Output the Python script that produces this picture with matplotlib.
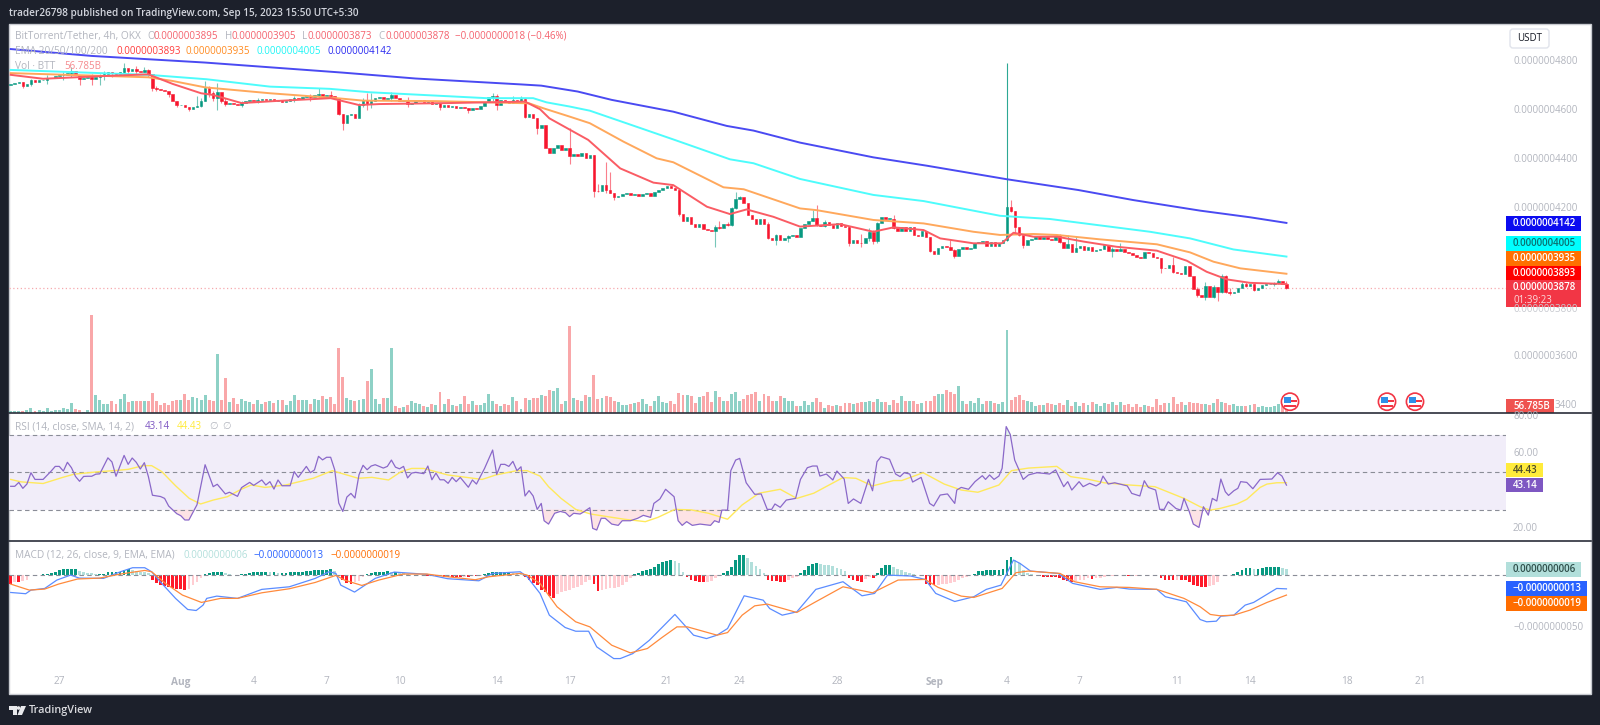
#!/usr/bin/env python3

import matplotlib
matplotlib.use("Agg")
import matplotlib.pyplot as plt
from matplotlib.patches import Rectangle, Circle, FancyBboxPatch, Polygon

plt.rcParams['font.family'] = ['Open Sans', 'DejaVu Sans']

# prices are in units of 0.0000000001 USDT
first_open = 4705
closes = [
    4708, 4712, 4714, 4700, 4708, 4722, 4716, 4722, 4726, 4732,
    4734, 4742, 4744, 4746, 4752, 4760, 4745, 4730, 4734, 4738,
    4728, 4738, 4744, 4750, 4756, 4752, 4744, 4758, 4772, 4760,
    4768, 4762, 4758, 4766, 4748, 4690, 4688, 4685, 4680, 4665,
    4640, 4622, 4624, 4612, 4606, 4612, 4618, 4640, 4690, 4672,
    4650, 4675, 4640, 4628, 4630, 4626, 4622, 4630, 4638, 4642,
    4638, 4644, 4648, 4642, 4646, 4640, 4644, 4635, 4638, 4646,
    4652, 4648, 4654, 4660, 4655, 4664, 4666, 4660, 4664, 4660,
    4650, 4585, 4548, 4582, 4584, 4570, 4622, 4643, 4626, 4640,
    4650, 4654, 4648, 4652, 4662, 4650, 4640, 4644, 4625, 4632,
    4638, 4642, 4636, 4640, 4626, 4632, 4616, 4622, 4612, 4618,
    4610, 4616, 4608, 4600, 4610, 4604, 4618, 4634, 4656, 4660,
    4622, 4642, 4634, 4630, 4644, 4638, 4646, 4575, 4584, 4570,
    4530, 4541, 4446, 4425, 4448, 4459, 4439, 4446, 4415, 4423,
    4414, 4426, 4405, 4418, 4273, 4271, 4296, 4276, 4265, 4246,
    4252, 4258, 4262, 4255, 4260, 4252, 4260, 4264, 4252, 4269,
    4276, 4283, 4292, 4283, 4276, 4178, 4151, 4165, 4138, 4126,
    4137, 4116, 4112, 4110, 4126, 4120, 4137, 4133, 4201, 4238,
    4246, 4224, 4174, 4157, 4137, 4156, 4137, 4079, 4072, 4092,
    4072, 4079, 4088, 4092, 4086, 4120, 4137, 4151, 4160, 4133,
    4129, 4147, 4133, 4120, 4143, 4129, 4125, 4059, 4072, 4061,
    4060, 4079, 4106, 4070, 4140, 4165, 4157, 4160, 4120, 4110,
    4126, 4110, 4124, 4093, 4090, 4110, 4083, 4029, 4015, 4038,
    4048, 4042, 4032, 4007, 4034, 4045, 4034, 4038, 4059, 4065,
    4070, 4048, 4065, 4048, 4061, 4072, 4208, 4192, 4124, 4093,
    4052, 4072, 4076, 4090, 4075, 4086, 4075, 4072, 4090, 4066,
    4041, 4056, 4022, 4041, 4048, 4032, 4042, 4029, 4030, 4034,
    4052, 4029, 4034, 4029, 4034, 4022, 4020, 4011, 4004, 3998,
    4025, 4018, 4004, 3998, 3960, 3958, 3970, 3943, 3940, 3935,
    3966, 3926, 3871, 3848, 3842, 3885, 3839, 3882, 3862, 3926,
    3862, 3855, 3862, 3875, 3892, 3886, 3892, 3869, 3879, 3889,
    3893, 3895, 3898, 3907, 3895, 3878,
]

# notable wicks only: candle index, high, low
wick_idx = [3, 5, 9, 13, 15, 17, 20, 22, 23, 25, 28, 29, 31, 33, 34, 35, 36, 39, 41, 44,
            46, 47, 48, 49, 50, 51, 52, 53, 57, 61, 70, 74, 76, 79, 81, 82, 86, 87, 88, 89,
            94, 98, 106, 113, 119, 120, 124, 126, 127, 130, 138, 144, 145, 147, 148, 149, 165, 174, 175, 177,
            178, 179, 180, 187, 189, 192, 198, 199, 201, 207, 210, 212, 213, 214, 218, 227, 232, 233, 246, 247,
            248, 249, 250, 259, 261, 263, 272, 274, 284, 287, 293, 295, 297, 298, 299, 300, 301, 304, 305, 307,
            312, 313, 315]
wick_high = [4714, 4728, 4745, 4755, 4775, 4740, 4750, 4750, 4760, 4758, 4795, 4770, 4780, 4775, 4770, 4750, 4700, 4670, 4640, 4615,
             4660, 4650, 4720, 4700, 4680, 4710, 4670, 4650, 4640, 4650, 4660, 4668, 4690, 4680, 4650, 4585, 4630, 4650, 4670, 4670,
             4675, 4655, 4630, 4610, 4670, 4665, 4660, 4660, 4650, 4570, 4527, 4418, 4302, 4391, 4350, 4262, 4283, 4132, 4150, 4145,
             4205, 4269, 4250, 4145, 4098, 4092, 4195, 4215, 4155, 4128, 4098, 4120, 4115, 4145, 4174, 4085, 4072, 4035, 4793, 4235,
             4190, 4120, 4065, 4095, 4092, 4090, 4045, 4060, 4000, 4005, 3880, 3900, 3890, 3880, 3936, 3930, 3875, 3900, 3900, 3895,
             3900, 3915, 3905]
wick_low = [4692, 4700, 4706, 4725, 4735, 4702, 4705, 4705, 4725, 4735, 4745, 4745, 4750, 4755, 4735, 4680, 4678, 4655, 4612, 4598,
            4612, 4612, 4640, 4655, 4640, 4600, 4630, 4620, 4612, 4630, 4635, 4640, 4650, 4650, 4580, 4520, 4578, 4615, 4600, 4610,
            4640, 4615, 4600, 4590, 4640, 4600, 4630, 4640, 4570, 4505, 4382, 4249, 4268, 4265, 4262, 4235, 4170, 4045, 4118, 4130,
            4130, 4198, 4238, 4075, 4052, 4065, 4150, 4128, 4125, 4050, 4045, 4070, 4055, 4059, 4118, 4025, 4032, 4000, 4070, 4188,
            4095, 4087, 4040, 4060, 4052, 4035, 4004, 4028, 3939, 3940, 3842, 3830, 3835, 3825, 3858, 3855, 3850, 3880, 3880, 3865,
            3885, 3895, 3873]

volumes = [
    12, 12, 12, 10, 18, 32, 12, 18, 12, 32,
    10, 18, 18, 32, 22, 60, 22, 18, 6, 18,
    590, 106, 80, 54, 54, 70, 54, 86, 116, 64,
    70, 74, 74, 70, 70, 122, 70, 50, 60, 50,
    74, 80, 80, 112, 80, 96, 90, 80, 106, 80,
    74, 352, 80, 212, 64, 90, 54, 86, 70, 64,
    54, 80, 54, 64, 70, 60, 80, 80, 50, 70,
    106, 80, 80, 80, 54, 86, 80, 100, 86, 96,
    54, 390, 216, 90, 80, 74, 80, 86, 190, 264,
    86, 54, 90, 90, 390, 44, 32, 38, 48, 70,
    60, 54, 44, 38, 54, 48, 128, 54, 86, 48,
    44, 54, 102, 54, 70, 48, 48, 60, 112, 70,
    54, 44, 54, 50, 96, 74, 26, 90, 80, 90,
    90, 106, 100, 138, 132, 148, 54, 70, 524, 90,
    80, 70, 106, 96, 230, 86, 90, 100, 96, 74,
    64, 48, 48, 54, 60, 64, 86, 54, 44, 74,
    100, 64, 60, 70, 54, 122, 106, 106, 100, 60,
    96, 100, 128, 64, 132, 96, 70, 74, 112, 128,
    74, 86, 106, 116, 128, 70, 112, 100, 70, 70,
    100, 90, 74, 74, 44, 44, 70, 48, 64, 90,
    64, 32, 50, 44, 50, 44, 60, 60, 54, 60,
    64, 68, 74, 64, 86, 64, 64, 50, 80, 60,
    100, 74, 70, 74, 54, 60, 74, 70, 100, 112,
    112, 138, 128, 116, 164, 74, 54, 70, 60, 90,
    54, 74, 74, 60, 54, 64, 500, 80, 96, 106,
    80, 70, 64, 44, 48, 50, 60, 54, 50, 60,
    50, 80, 44, 64, 44, 60, 50, 64, 54, 44,
    60, 54, 64, 50, 64, 50, 54, 38, 54, 38,
    50, 44, 38, 86, 50, 60, 60, 96, 54, 64,
    50, 66, 60, 60, 54, 54, 50, 60, 86, 64,
    60, 50, 54, 44, 44, 44, 50, 54, 38, 44,
    38, 38, 44, 54, 60, 57,
]

ema20_idx = [0, 8, 23, 34, 40, 47, 50, 57, 65, 79, 86, 91, 108, 127, 130.7, 133, 142.6, 150.5, 158.7, 163.6,
             171.9, 177.6, 181.7, 188.3, 194.9, 204.8, 213, 218, 225.4, 229.5, 237.7, 244.7, 247.6, 252.5, 258.3, 264.9, 273, 283, 290.4, 295.3,
             300.3, 306, 315]
ema20 = [4745, 4729, 4740, 4747, 4708, 4670, 4663, 4630, 4638, 4650, 4622, 4626, 4630, 4636, 4605, 4568, 4480, 4364, 4306, 4296,
         4208, 4178, 4197, 4167, 4127, 4137, 4106, 4124, 4113, 4079, 4059, 4059, 4102, 4086, 4086, 4066, 4045, 4029, 3988, 3943,
         3912, 3898, 3893]
ema50_idx = [0, 34, 40, 48, 64, 80.5, 87, 105, 128, 131.5, 138, 143, 151.3, 159.5, 163.6, 176, 181, 194.9, 199, 213,
             225.4, 237.7, 244.3, 252.5, 258.3, 269, 283, 291.2, 297, 303.6, 315]
ema50 = [4752, 4735, 4720, 4694, 4670, 4650, 4640, 4638, 4629, 4609, 4575, 4548, 4473, 4405, 4389, 4287, 4279, 4201, 4194, 4154,
         4140, 4106, 4093, 4097, 4093, 4075, 4055, 4022, 3984, 3957, 3935]
ema100_idx = [0, 34, 48.4, 64, 78.8, 88.7, 117.5, 129, 132.3, 138, 143, 152, 163.6, 177.6, 183.4, 194.9, 213, 225.4, 244.3, 256.6,
              281.3, 291.2, 301.9, 315]
ema100 = [4765, 4745, 4727, 4697, 4688, 4674, 4650, 4650, 4633, 4616, 4599, 4548, 4482, 4401, 4385, 4321, 4256, 4231, 4171, 4158,
          4106, 4079, 4034, 4005]
ema200_idx = [0, 20, 48, 82, 100, 126, 131, 140, 148.4, 163.6, 176.8, 183.4, 194.9, 213, 226.2, 245.9, 263.6, 277.2, 293.7, 306, 315]
ema200 = [4850, 4822, 4795, 4754, 4730, 4706, 4701, 4677, 4643, 4595, 4537, 4518, 4469, 4409, 4375, 4320, 4276, 4235, 4192, 4165, 4142]

rsi_idx = [
    0, 1, 2, 3, 4, 5, 6, 7, 8, 10,
    11, 12, 13, 14, 15, 16, 17, 18, 19, 20,
    21, 22, 24, 25, 26, 28, 29, 30, 31, 32,
    33, 34, 35, 37, 38, 39, 41, 42, 43, 44,
    46, 48, 50, 51, 53, 54, 56, 57, 59, 60,
    62, 63, 64, 65, 66, 67, 69, 70, 71, 73,
    74, 75, 76, 77, 78, 79, 80, 81, 82, 83,
    84, 85, 86, 87, 88, 89, 90, 92, 93, 94,
    95, 96, 97, 98, 99, 100, 102, 103, 104, 105,
    106, 107, 108, 109, 110, 111, 113, 114, 115, 117,
    119, 120, 121, 122, 123, 124, 125, 126, 127, 128,
    129, 130, 131, 131.7, 132.8, 134.3, 135.7, 137, 138, 139,
    140.6, 141.6, 143, 143.7, 144.7, 145.8, 146.8, 148.4, 150, 151,
    153, 154.8, 156.2, 158, 158.8, 160.3, 161.7, 163.8, 164.8, 165.8,
    166.9, 168.3, 170.2, 172.8, 173.8, 174.9, 175.6, 177, 177.8, 179,
    180, 181.6, 183.7, 185.3, 186.8, 187.9, 188.7, 190, 191.5, 193.8,
    195, 196.7, 198, 199.1, 199.8, 201.4, 203, 204, 205.8, 206.8,
    208.1, 209.9, 211.8, 212.8, 213.9, 214.9, 217, 218.5, 219.6, 220.6,
    222, 222.7, 224.8, 226.1, 226.9, 227.9, 229.5, 231.3, 233.1, 233.6,
    234.7, 236.5, 238.1, 239.9, 240.7, 241.7, 242.8, 244, 244.8, 245.8,
    246.8, 247.9, 250, 251.3, 253.4, 254.9, 256.5, 258, 260, 261,
    262, 263.8, 264.8, 266.4, 268, 269, 269.7, 271, 272.6, 275.7,
    276.8, 278.8, 279.9, 280.9, 282.7, 283.7, 284.8, 285.8, 287.7, 288.9,
    289.7, 291, 292, 293.4, 294.5, 295.7, 296.7, 297.8, 298.8, 299.9,
    300.7, 302, 303, 303.7, 305.2, 306.7, 308.5, 311.4, 312.8, 313.9,
    315,
]
rsi = [
    42.5, 42.5, 44.6, 41.4, 43.7, 49.8, 46.2, 46.2, 46.2, 50.7,
    53.2, 53.2, 50.7, 55.4, 52.5, 47.8, 45.2, 47.8, 47.9, 47.9,
    49.0, 49.2, 57.8, 55.6, 47.9, 59.1, 54.3, 57.7, 55.4, 51.8,
    55.2, 47.7, 37.7, 37, 36, 31.9, 27.8, 26.7, 24.4, 24.4,
    32.6, 54.1, 42.3, 43.6, 38.4, 39.3, 37.1, 41.8, 44.6, 43,
    45.9, 43.2, 45, 41, 45.9, 42.8, 42.8, 50.4, 47.3, 53.2,
    49.8, 51.3, 58.6, 56.7, 58.1, 58.1, 51.4, 33.5, 29, 36.7,
    38.7, 36.2, 48.7, 53.8, 51.4, 53.4, 54.1, 52.3, 53.2, 56.6,
    52.8, 51.9, 53.2, 47, 49.6, 50, 49.3, 53.4, 46, 49.6,
    46, 46, 44.1, 47.3, 45, 47.3, 42, 45.9, 43.7, 52.1,
    62, 48.9, 54.3, 54.3, 53.2, 55.9, 50.9, 53, 37.3, 40.2,
    37.3, 30.1, 33.3, 24, 22.2, 28, 29, 28.3, 26.2, 28,
    27.6, 28.9, 31, 19.9, 19, 25.3, 25.3, 22.2, 21.5, 24,
    24, 25.3, 26.9, 25.8, 33.3, 35.7, 40.9, 36.9, 24, 21.5,
    23.5, 21.5, 22.2, 21.5, 24, 23.1, 29.7, 29.7, 50.9, 56.6,
    57.5, 44.4, 38.2, 38.4, 30.1, 30.1, 33, 31.2, 35.1, 36,
    46.2, 52.5, 53.4, 53.4, 48, 49.1, 45.9, 50.7, 46.4, 33.3,
    35.7, 33.3, 46.2, 40.1, 55.7, 58.4, 57, 49.1, 47.7, 49.8,
    49.1, 44.8, 47.3, 38.7, 33.3, 31.9, 37.8, 38.4, 33.3, 40.5,
    41.9, 40.9, 45, 48.2, 46.2, 48.6, 46.2, 48, 52.2, 74.6,
    70.4, 56.6, 46.2, 48.6, 49.8, 49.5, 49.1, 51.3, 42.3, 45,
    40.5, 45, 42.3, 44.1, 42.7, 44.1, 48, 43.7, 44.4, 42.7,
    38.7, 37.3, 45.5, 41.9, 40.5, 30.1, 30.1, 34.2, 30.6, 29.7,
    36, 28.9, 22.2, 20.4, 31.5, 27, 36, 34.6, 46.4, 39.6,
    37.6, 40.1, 41.4, 45, 44.6, 41.2, 46.2, 46.4, 49.8, 48,
    43.14,
]

sma_idx = [0, 2.5, 8, 12.7, 15.6, 22, 25.4, 29, 32.7, 34.8, 37.3, 40.7, 44.1, 46.9, 50, 53.5, 56.9, 59.4, 62.8, 67.9, 74.7, 79.4, 85.8, 89.2, 93.3, 96.4, 99, 102, 107.9, 116.4,
           119.8, 124.9, 127.5, 130.7, 132.8, 135.9, 139.5, 143.2, 147.3, 151.5, 156.7, 159.8, 164, 168.1, 172.3, 177, 180.6, 184.8, 190, 194.1, 198.3, 205.5, 208.7, 212.8, 218, 220, 225.3, 230.5, 234.7, 238.8,
           244, 247.1, 251.3, 258.3, 261.7, 265.8, 270, 276.2, 282.5, 289.7, 293.7, 296.2, 298.6, 302.8, 305.2, 308.5, 310.2, 312.6, 315]
sma = [46.2, 44.9, 44, 47.2, 49, 50.4, 50.9, 51.6, 53.6, 53.6, 50.4, 42.8, 36, 33, 35.1, 36.9, 40.9, 43.2, 41.9, 43.2, 46.8, 50.9, 46.8, 47.3, 45.9, 50.4, 52.1, 52.1, 48.6, 46.2,
       48.6, 50.9, 50.9, 48, 42.3, 36, 30.1, 27.6, 26.2, 24.8, 23.5, 25.8, 30.1, 29.8, 28, 24.8, 32.5, 38.8, 40.9, 36, 38.8, 47.2, 46.8, 42.7, 45.6, 45.6, 49.8, 43.7, 40.5, 39.3,
       43.2, 50.9, 52.3, 53.2, 47.7, 46.4, 44.4, 43.2, 42.3, 36, 31.5, 29.7, 30.6, 33, 35.5, 41.9, 43.7, 44.4, 44.43]

macd_hist = [
    -8, -6, -6, -5.5, -4.5, .5, .5, .7, 1, 1.5,
    2, 3, 5, 6, 6, 6, 6, 4, 3, 2.5,
    2, 1.5, 1.5, 1.5, 3, 3, 3, 3.5, 5, 6,
    5, 4, 3.5, 3, 2, -4, -7, -9, -10, -11,
    -12, -13, -13.5, -14, -13.5, -9, -6, -3, 1, 2.5,
    3, 3, 3, 2, 1, .5, .5, 1, 1.5, 2,
    3, 3.5, 3.5, 3.5, 3, 3, 2.5, 2.5, 2.5, 3,
    3.5, 3.5, 3.5, 4, 4, 5, 5, 5, 5.5, 6,
    4, -1, -4, -7, -8, -6, -5, -2, 1, 2,
    3, 3.5, 3.5, 4, 3.5, 3.5, 3, 2.5, 1, .5,
    .5, .3, .5, -.5, -.5, -.8, -.8, -1.5, -2, -2,
    -2, -2, -1.5, -1.5, -1, -1, -.5, 1, 2, 3,
    3, 3, 3, 3, 2.5, 2, 1, -2, -4, -7,
    -9, -14, -16, -20, -21.5, -18, -16.5, -15, -14, -12.5,
    -11, -9, -6, -4, -8, -15, -14.5, -13.5, -12.5, -12,
    -11, -9, -6, -2.5, 1, 2, 4, 5, 6.5, 8.5,
    11, 12.5, 14, 14.5, 14, 12, 3, -2, -4, -5,
    -6.5, -6.5, -6, -5, -3, .5, 2, 4.5, 8, 15,
    19.7, 19.7, 16.5, 12.6, 9.4, 6.5, 2, -4, -5, -5,
    -6, -6, -4, -3, -1.5, 2, 5, 9, 11, 11.6,
    11, 10, 9.7, 9, 6.8, 5.8, 4.5, -3, -4, -5,
    -6, -3.5, -2, -3, 2.5, 7, 9.7, 10, 8, 6,
    5, 3.5, 2.5, 1.5, .5, -1, -8, -9, -9.5, -9,
    -8.5, -8, -7, -6.5, -4.5, -3, -2, .5, 1.5, 4,
    4.5, 5, 5, 5, 5.5, 6, 15, 18, 15, 12,
    5, 2.5, 1.5, .5, -1, -1.5, -1.5, -2, -2, -3,
    -4.5, -5, -6, -5, -4.5, -4, -3, -3.5, -3, -2.5,
    -1.5, -1, -.5, .5, .5, -.3, -.7, -.7, -.5, .4,
    .3, .3, .3, .3, -3, -4, -4.5, -4.5, -4, -4,
    -4.5, -6, -9, -10, -11, -11, -10.5, -9.5, -6, .3,
    .5, .5, 1.5, 3, 5, 7, 7, 6.5, 6.5, 7,
    8, 8, 8, 8.5, 7, 6,
]

macd_idx = [0, 1.6, 3.7, 5, 8.4, 11.4, 14.8, 16.9, 22.9, 27.1, 30.1, 33.1, 34.8, 37.3, 40.7, 43.7, 45.8, 47.5, 48.4, 50.9,
            56, 62, 68.8, 75.2, 78.6, 80.3, 81.5, 84.9, 90, 94.7, 96.9, 102.8, 107.9, 115.6, 119, 125.8, 127.5, 130.7, 133, 136.9,
            139.5, 142.7, 144.7, 148.9, 150.5, 153.6, 157.7, 164, 168.6, 171.8, 174.4, 177, 181.1, 185.8, 187.4, 190.5, 194.1, 198.8, 205.5, 210.2,
            213.3, 216.5, 222.2, 225.8, 228.4, 233.1, 237.8, 240.9, 244.5, 247.6, 249.2, 251.8, 258.6, 262.2, 269, 273.1, 276.2, 283, 285.1, 290.3,
            293.7, 295.3, 297.7, 298.8, 302, 304.8, 306.9, 312.6, 315]
macd = [-16.5, -17, -17.7, -14.2, -12.6, -4.5, .3, -2.6, -2.9, 3.5, 7.4, 7.4, 3.5, -7.7, -22.2, -32.9, -33.9, -28.7, -22.2, -20,
        -22.2, -13.5, -11, -2.9, 3.5, 1.9, -9.4, -16.1, -2.9, 3.2, 2.6, 1, -3.2, -5.2, 1.9, 3.5, -1.3, -17.4, -38.4, -50.3,
        -53.9, -53.9, -69, -80.3, -80.3, -75.5, -62.6, -37.7, -57.7, -61, -57.7, -51.3, -19.7, -23.9, -32, -38.4, -35.2, -13.5, -6.1, -19.7,
        -17.4, .3, -.6, -3.9, -17.4, -25.2, -20.6, -13.5, -9.4, 14.8, 11.6, 4.2, 1.9, -7.7, -13.5, -11.6, -13.2, -13.5, -20.6, -25.5,
        -42.6, -44.8, -44.2, -39.4, -38.4, -28.7, -26.1, -12.6, -13]
signal_idx = [0, 4.6, 8.4, 11.8, 16.5, 22, 27.1, 33.1, 34.8, 38.2, 42.4, 47.1, 51.8, 56, 62, 68.8, 75.2, 80.3, 82.4, 86.7,
              90.9, 96.9, 102.8, 107.9, 114.7, 118.1, 125.8, 127.5, 130.7, 134.9, 139.5, 143, 148.4, 153, 157.2, 160.8, 164.5, 167.1, 174.4, 177,
              180.6, 183.7, 186.8, 194.1, 198.3, 205.5, 212.8, 219.1, 225.8, 229, 234.7, 237.8, 244.8, 248.2, 251.3, 259.1, 262.7, 269, 276.2, 283,
              289.7, 293.7, 296.2, 298.6, 302, 306, 310.2, 315]
signal = [-8.4, -14.2, -13.2, -8.4, -3.5, -2.6, 1.3, 4.8, 3.5, -7.7, -19, -26.1, -22.2, -22.2, -16.8, -12.9, -6.8, 0, -4.5, -9.7,
          -4.5, 1.3, 1.3, -1.3, -4.2, -1.3, 1.9, .3, -7.7, -30.3, -44.8, -49.7, -67.4, -74.8, -70.6, -60, -49.7, -49.7, -57.7, -55.2,
          -38.4, -29.4, -27.7, -35.8, -26.5, -11, -16.8, -4.5, -3.9, -11.6, -20, -21.3, -12.6, 2.6, 4.2, 1.9, -6.1, -11, -11.6, -13.5,
          -22.2, -30.3, -37.7, -39, -38.4, -33.5, -26.1, -19]

date_idx = [12, 42, 60, 78, 96, 120, 138, 162, 180, 204, 228, 246, 264, 288, 306, 330, 348]
date_labels = ['27', 'Aug', '4', '7', '10', '14', '17', '21', '24', '28', 'Sep', '4', '7', '11', '14', '18', '21']
price_ticks = [4800, 4600, 4400, 4200, 3600, 3400]
rsi_ticks = [80, 60, 20]

BG = '#1c202b'
GREY = '#b2b5be'
UP = '#089981'
DOWN = '#f7162e'
W, H = 1600, 725
PANE_R = 1506
X0, PX = 10.7, 4.05


def pane(top, bottom, ymin, ymax, right=PANE_R):
    a = fig.add_axes([9 / W, 1 - bottom / H, (right - 9) / W, (bottom - top) / H])
    a.set_xlim((9 - X0) / PX, (right - X0) / PX)
    a.set_ylim(ymin, ymax)
    a.axis('off')
    return a


fig = plt.figure(figsize=(16, 7.25), dpi=100, facecolor=BG)

# white chart frame, everything else sits on top
frame = fig.add_axes([0, 0, 1, 1])
frame.set_xlim(0, W)
frame.set_ylim(H, 0)
frame.axis('off')
frame.add_patch(Rectangle((9, 24), 1582, 670, fc='white', ec='#c9cbd1', lw=1))

ax_vol = pane(310, 413, 0, 618)
ax = pane(24, 413, 3368, 4952)
ax_rsi = pane(413, 541, 13.1, 81.9)
ax_macd = pane(541, 694, -114.5, 33.2)

opens = [first_open] + closes[:-1]
idx = list(range(len(closes)))
up = [c >= o for o, c in zip(opens, closes)]

# volume
ax_vol.bar(idx, volumes, width=0.74, color=['#8ed1c6' if u else '#f9a7a9' for u in up])

# candles
ax.axhline(closes[-1], color='#f6a9ae', lw=0.9, ls=(0, (1, 2)), zorder=1)
for i, hi, lo in zip(wick_idx, wick_high, wick_low):
    ax.vlines(i, lo, hi, color=UP if up[i] else DOWN, lw=0.8, alpha=0.55 if i != 246 else 0.85, zorder=2)
ax.bar(idx, [abs(c - o) for o, c in zip(opens, closes)], bottom=[min(o, c) for o, c in zip(opens, closes)],
       width=0.62, color=[UP if u else DOWN for u in up], edgecolor=[UP if u else DOWN for u in up], lw=0.4, zorder=3)

# moving averages
ax.plot(ema200_idx, ema200, color='#4a4af2', lw=1.4, zorder=4)
ax.plot(ema100_idx, ema100, color='#4dfcfc', lw=1.4, zorder=4)
ax.plot(ema50_idx, ema50, color='#ffa85c', lw=1.4, zorder=4)
ax.plot(ema20_idx, ema20, color='#fa5c64', lw=1.4, zorder=4)

# RSI
ax_rsi.axhspan(30, 70, color='#f1edf9', lw=0)
for lvl in (70, 50, 30):
    ax_rsi.axhline(lvl, color='#8a8d97', lw=0.8, ls=(0, (4, 3)))
ax_rsi.fill_between(rsi_idx, rsi, 30, where=[v < 30 for v in rsi], interpolate=True, color='#fde3e5', lw=0)
ax_rsi.fill_between(rsi_idx, rsi, 70, where=[v > 70 for v in rsi], interpolate=True, color='#e2f5ec', lw=0)
ax_rsi.plot(sma_idx, sma, color='#ffe95c', lw=1.0)
ax_rsi.plot(rsi_idx, rsi, color='#8a68c9', lw=0.9)

# MACD
ax_macd.axhline(0, color='#8a8d97', lw=0.8, ls=(0, (4, 3)))
hist_colors = []
for i, v in enumerate(macd_hist):
    prev = macd_hist[i - 1] if i else v
    if v >= 0:
        hist_colors.append('#089981' if v >= prev else '#b2dfdb')
    else:
        hist_colors.append('#ff1a2a' if v <= prev else '#ffcdd2')
ax_macd.bar(idx, macd_hist, width=0.68, color=hist_colors)
ax_macd.plot(macd_idx, macd, color='#5b8cff', lw=0.9)
ax_macd.plot(signal_idx, signal, color='#ff8a3c', lw=0.9)

# overlay with pixel coordinates for all the text and the scale tags
ov = fig.add_axes([0, 0, 1, 1], zorder=10)
ov.set_xlim(0, W)
ov.set_ylim(H, 0)
ov.axis('off')
ov.patch.set_alpha(0)


def txt(x, y, s, color=GREY, size=7, **kw):
    ov.text(x, y, s, color=color, fontsize=size, va='center', ha=kw.pop('ha', 'left'), **kw)


def tag(x0, x1, y0, y1, color, s, tcolor='white'):
    ov.add_patch(Rectangle((x0, y0), x1 - x0, y1 - y0, fc=color, ec='none'))
    if s:
        txt(1513, (y0 + y1) / 2, s, tcolor, 7, fontweight='semibold')


ov.plot([9, 1591], [413, 413], color='#2a2e39', lw=1.2)
ov.plot([9, 1591], [541, 541], color='#2a2e39', lw=1.2)

txt(9, 13, 'trader26798 published on TradingView.com, Sep 15, 2023 15:50 UTC+5:30', '#d1d4dc', 7.2, fontweight='semibold')

# legends
txt(15, 36, 'BitTorrent/Tether, 4h, OKX', size=7.3)
for x, s in [(147.4, 'O'), (224.5, 'H'), (301.7, 'L'), (378, 'C')]:
    txt(x, 36, s)
for x, s in [(154, '0.0000003895'), (231, '0.0000003905'), (308, '0.0000003873'), (385, '0.0000003878'),
             (455, '\u22120.0000000018 (\u22120.46%)')]:
    txt(x, 36, s, '#f4616d')
txt(15, 51, 'EMA 20/50/100/200', size=7.3)
txt(116.4, 51, '0.0000003893', '#ff3b3b')
txt(186, 51, '0.0000003935', '#ff8a1f')
txt(256.5, 51, '0.0000004005', '#1df5f5')
txt(327, 51, '0.0000004142', '#2a2af0')
txt(15, 66, 'Vol \u00b7 BTT', size=7.3)
txt(64.4, 66, '56.785B', '#f58a8e')
txt(15, 426.7, 'RSI (14, close, SMA, 14, 2)', size=7.3)
txt(144.6, 426.7, '43.14', '#7e57c2')
txt(176.7, 426.7, '44.43', '#ffeb3b')
txt(209, 426.7, '\u2205')
txt(222.5, 426.7, '\u2205')
txt(15, 555, 'MACD (12, 26, close, 9, EMA, EMA)', size=7.3)
txt(183.5, 555, '0.0000000006', '#b2dfdb')
txt(254, 555, '\u22120.0000000013', '#2962ff')
txt(330.6, 555, '\u22120.0000000019', '#ff6d00')

# scales: ticks that sit behind a tag are only peeking out in the reference
for p in price_ticks:
    txt(1555 if p == 3400 else 1513, 208.7 + (4200 - p) * 0.2455,
        '3400' if p == 3400 else '%.10f' % (p * 1e-10))
txt(1513, 309, '0.0000003800', '#c8cad0')
for v in rsi_ticks:
    txt(1513, 472.4 - (v - 50) * 1.86, '%.2f' % v)
txt(1513, 627, '\u22120.0000000050')

tag(1506, 1581, 216, 231, '#0c0cf0', '0.0000004142')
tag(1506, 1581, 236, 251, '#00ffff', '0.0000004005', '#0b6f6f')
tag(1506, 1581, 251, 266, '#ff7000', '0.0000003935')
tag(1506, 1581, 266, 280, '#ff0000', '0.0000003893')
tag(1506, 1581, 280, 307, '#f23645', '')
txt(1513, 287.5, '0.0000003878', 'white', 7, fontweight='semibold')
txt(1513, 300, '01:39:23', '#fcd9dc', 7)
tag(1506, 1554, 399, 413, '#ef5350', '56.785B')
tag(1506, 1543, 463, 477, '#ffeb3b', '44.43', '#4a4a2a')
tag(1506, 1543, 478, 492, '#7e57c2', '43.14')
tag(1506, 1581, 562, 577, '#b2dfdb', '0.0000000006', '#2f4f4b')
tag(1506, 1587, 581, 596, '#2962ff', '\u22120.0000000013')
tag(1506, 1587, 596, 611, '#ff6d00', '\u22120.0000000019')

# time scale
for i, s in zip(date_idx, date_labels):
    x = X0 + i * PX
    txt(x, 682, s, GREY, 7.3, ha='center', fontweight='bold' if s in ('Aug', 'Sep') else 'normal')

# currency button
ov.add_patch(FancyBboxPatch((1510, 29), 39, 19, boxstyle='round,pad=0,rounding_size=3', fc='white', ec='#e0e3eb', lw=1))
txt(1529.5, 38.5, 'USDT', '#131722', 7, ha='center')

# US event flags
for fx in (1290, 1387, 1415):
    ov.add_patch(Circle((fx, 401.7), 8.6, fc='white', ec='#f23645', lw=1.2, zorder=5))
    ov.add_patch(Rectangle((fx - 6, 397), 7, 6, fc='#2f8fe8', ec='none', zorder=6))
    ov.add_patch(Rectangle((fx + 1, 399.5), 6, 2.2, fc='#f23645', ec='none', zorder=6))
    ov.add_patch(Rectangle((fx - 6, 405), 12, 2, fc='#f23645', ec='none', zorder=6))

# TradingView logo
ov.add_patch(Polygon([(9, 706), (17, 706), (17, 715), (13, 715), (13, 710), (9, 710)], fc='#e8e9ec', ec='none'))
ov.add_patch(Circle((18.5, 708), 1.8, fc='#e8e9ec', ec='none'))
ov.add_patch(Polygon([(21, 706), (26, 706), (22, 715), (17.5, 715)], fc='#e8e9ec', ec='none'))
txt(29, 710, 'TradingView', '#d9dade', 7.8, fontweight='semibold')

fig.savefig('out.png', dpi=100, facecolor=BG)
